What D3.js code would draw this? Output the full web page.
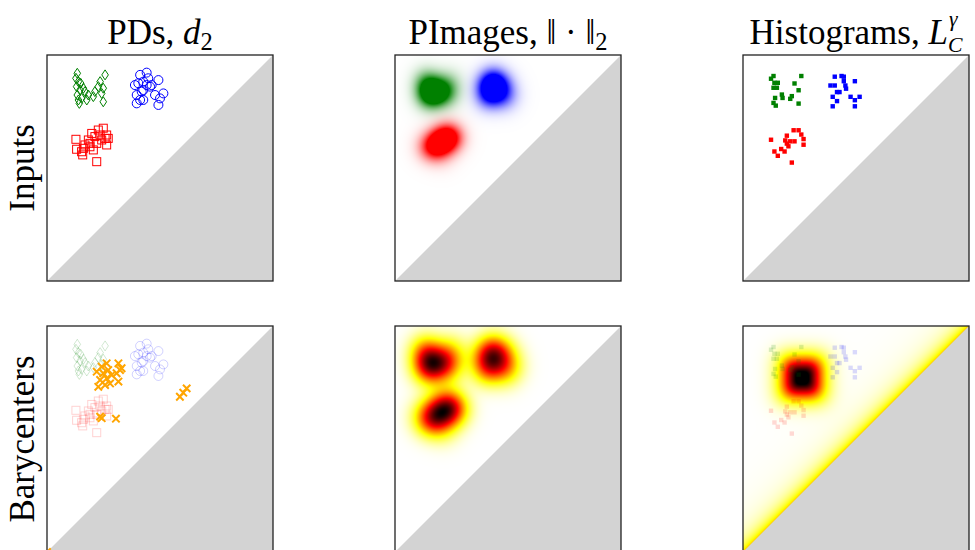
<!DOCTYPE html>
<html><head><meta charset="utf-8">
<script src="https://cdn.jsdelivr.net/npm/d3@7"></script>
<style>body{margin:0;background:#fff}svg{display:block}</style>
</head><body>
<script>
// ---------------- data (birth, death) in [0,1] ----------------
const greenPD = [[0.134,0.919],[0.128,0.897],[0.139,0.882],[0.131,0.860],[0.146,0.845],[0.134,0.823],[0.153,0.808],[0.143,0.786],[0.168,0.838],[0.176,0.801],[0.205,0.816],[0.212,0.838],[0.235,0.882],[0.257,0.912],[0.249,0.853],[0.242,0.830],[0.249,0.793],[0.149,0.875],[0.161,0.853],[0.227,0.860],[0.139,0.801],[0.183,0.823]];
const bluePD = [[0.412,0.912],[0.441,0.922],[0.404,0.875],[0.426,0.882],[0.448,0.897],[0.441,0.867],[0.463,0.867],[0.493,0.889],[0.397,0.823],[0.419,0.838],[0.426,0.801],[0.412,0.801],[0.397,0.786],[0.478,0.823],[0.515,0.830],[0.500,0.808],[0.493,0.779],[0.456,0.860],[0.426,0.845],[0.389,0.867]];
const redPD = [[0.128,0.627],[0.131,0.583],[0.153,0.572],[0.161,0.587],[0.168,0.602],[0.190,0.609],[0.198,0.653],[0.212,0.639],[0.227,0.668],[0.249,0.676],[0.264,0.646],[0.264,0.602],[0.257,0.631],[0.242,0.624],[0.220,0.609],[0.205,0.580],[0.190,0.594],[0.158,0.558],[0.220,0.528],[0.235,0.646],[0.183,0.624],[0.271,0.631]];
const greenHist = [[0.135,0.907],[0.124,0.895],[0.139,0.877],[0.135,0.855],[0.150,0.855],[0.142,0.810],[0.135,0.788],[0.145,0.776],[0.172,0.825],[0.175,0.810],[0.209,0.806],[0.216,0.818],[0.228,0.874],[0.258,0.907],[0.246,0.844],[0.246,0.785],[0.154,0.877]];
const blueHist = [[0.406,0.904],[0.436,0.907],[0.446,0.904],[0.446,0.884],[0.495,0.884],[0.387,0.865],[0.406,0.865],[0.453,0.865],[0.456,0.851],[0.416,0.836],[0.427,0.836],[0.397,0.815],[0.476,0.815],[0.516,0.815],[0.495,0.800],[0.416,0.796],[0.397,0.773],[0.495,0.773]];
const redHist = [[0.124,0.625],[0.224,0.667],[0.246,0.667],[0.258,0.648],[0.268,0.628],[0.194,0.643],[0.187,0.622],[0.209,0.618],[0.228,0.618],[0.201,0.596],[0.268,0.603],[0.169,0.584],[0.184,0.573],[0.139,0.573],[0.154,0.554],[0.216,0.524],[0.194,0.608]];
const baryPD = [[0.220,0.798],[0.242,0.820],[0.264,0.835],[0.249,0.791],[0.235,0.761],[0.264,0.768],[0.227,0.731],[0.279,0.746],[0.257,0.739],[0.286,0.783],[0.316,0.835],[0.323,0.805],[0.308,0.791],[0.330,0.813],[0.316,0.754],[0.271,0.805],[0.242,0.592],[0.235,0.599],[0.305,0.590],[0.588,0.687],[0.603,0.705],[0.618,0.724],[0.0,0.0]];
const histBaryMass = [[0.262,0.770]];
const colTitles = ["PDs", "PImages", "Histograms"];
const rowTitles = ["Inputs", "Barycenters"];
const inputColors = ["green", "blue", "red"];

// ---------------- layout ----------------
const W = 975, H = 550, S = 226;
const colX = [47, 395, 743], rowY = [55, 326];
const FONT = "'Liberation Serif','DejaVu Serif',serif";
const svg = d3.select("body").append("svg").attr("width", W).attr("height", H);
const defs = svg.append("defs");
const x = d3.scaleLinear().domain([0, 1]).range([0, S]);
const y = d3.scaleLinear().domain([0, 1]).range([S, 0]);

function panel(c, r) {
  const id = `clip${c}${r}`;
  defs.append("clipPath").attr("id", id).append("rect").attr("width", S).attr("height", S);
  const g = svg.append("g").attr("transform", `translate(${colX[c]},${rowY[r]})`);
  const inner = g.append("g").attr("clip-path", `url(#${id})`);
  return {g, inner};
}
function triangle(g) {
  g.append("path").attr("d", d3.line()([[x(0), y(0)], [x(1), y(0)], [x(1), y(1)]]) + "Z").attr("fill", "#d3d3d3");
}
function frame(g) {
  g.append("rect").attr("width", S).attr("height", S).attr("fill", "none").attr("stroke", "#222").attr("stroke-width", 1.3);
}
function image(g, fns, colorFn) {
  const vals = fns.map(f => { const a = new Float32Array(S * S); let m = 0;
    for (let j = 0; j < S; j++) for (let i = 0; i < S; i++) { const v = f(x.invert(i + 0.5), y.invert(j + 0.5)); a[j * S + i] = v; if (v > m) m = v; }
    return {a, m}; });
  const cv = document.createElement("canvas"); cv.width = S; cv.height = S;
  const ctx = cv.getContext("2d"); const im = ctx.createImageData(S, S);
  for (let k = 0; k < S * S; k++) {
    const c = colorFn(vals.map(o => o.a[k] / o.m), k);
    im.data[4 * k] = c[0]; im.data[4 * k + 1] = c[1]; im.data[4 * k + 2] = c[2]; im.data[4 * k + 3] = 255;
  }
  ctx.putImageData(im, 0, 0);
  g.append("image").attr("width", S).attr("height", S).attr("href", cv.toDataURL());
}
const sig = 0.05;
function kde(pts, s) { return (u, v) => { let t = 0; for (const p of pts) { const dx = u - p[0], dy = v - p[1]; t += Math.exp(-(dx * dx + dy * dy) / (2 * s * s)); } return t; }; }
function hotR(t) {
  t = Math.max(0, Math.min(1, t)); const h = 1 - t;
  const r = Math.min(1, h / 0.365), gg = Math.max(0, Math.min(1, (h - 0.365) / 0.381)), b = Math.max(0, Math.min(1, (h - 0.746) / 0.254));
  return [r * 255, gg * 255, b * 255];
}
const rgb = {green: [0, 128, 0], blue: [0, 0, 255], red: [255, 0, 0]};

// markers
const diamond = "M0,-5L3.3,0L0,5L-3.3,0Z";
function drawPD(g, alpha) {
  g.selectAll(null).data(greenPD).join("path").attr("d", diamond).attr("transform", d => `translate(${x(d[0])},${y(d[1])})`)
    .attr("fill", "none").attr("stroke", "green").attr("stroke-width", 1).attr("stroke-opacity", alpha);
  g.selectAll(null).data(bluePD).join("circle").attr("cx", d => x(d[0])).attr("cy", d => y(d[1])).attr("r", 4.5)
    .attr("fill", "none").attr("stroke", "blue").attr("stroke-width", 1).attr("stroke-opacity", alpha);
  g.selectAll(null).data(redPD).join("rect").attr("x", d => x(d[0]) - 4).attr("y", d => y(d[1]) - 4).attr("width", 8).attr("height", 8)
    .attr("fill", "none").attr("stroke", "red").attr("stroke-width", 1).attr("stroke-opacity", alpha);
}
function drawHist(g, alpha) {
  [[greenHist, "green"], [blueHist, "blue"], [redHist, "red"]].forEach(([arr, col]) => {
    g.selectAll(null).data(arr).join("rect").attr("x", d => x(d[0]) - 2.2).attr("y", d => y(d[1]) - 2.2)
      .attr("width", 4.4).attr("height", 4.4).attr("fill", col).attr("fill-opacity", alpha);
  });
}

// Row 1, col 1
{ const {g, inner} = panel(0, 0); triangle(inner); drawPD(inner, 1); frame(g); }
// Row 1, col 2 : persistence images
{ const {g, inner} = panel(1, 0);
  image(inner, [kde(greenPD, sig), kde(bluePD, sig), kde(redPD, sig)], ts => {
    let out = [255, 255, 255];
    ts.forEach((t, i) => { const a = Math.min(1, 1.8 * t * t + 0.3 * t); const c = rgb[inputColors[i]];
      out = [out[0] * (1 - a) + c[0] * a, out[1] * (1 - a) + c[1] * a, out[2] * (1 - a) + c[2] * a]; });
    return out;
  });
  triangle(inner); frame(g); }
// Row 1, col 3 : histograms
{ const {g, inner} = panel(2, 0); triangle(inner); drawHist(inner, 1); frame(g); }
// Row 2, col 1 : PD barycenter
{ const {g, inner} = panel(0, 1); triangle(inner); drawPD(inner, 0.18);
  inner.selectAll(null).data(baryPD).join("path")
    .attr("d", "M-3.7,-3.7L3.7,3.7M-3.7,3.7L3.7,-3.7").attr("transform", d => `translate(${x(d[0])},${y(d[1])})`)
    .attr("stroke", "orange").attr("stroke-width", 2).attr("fill", "none");
  frame(g); }
// Row 2, col 2 : PI barycenter (hot_r)
{ const {g, inner} = panel(1, 1);
  const all = kde(greenPD.concat(bluePD, redPD), sig);
  image(inner, [all], ts => hotR(ts[0] * 1.0));
  triangle(inner); frame(g); }
// Row 2, col 3 : histogram barycenter
{ const {g, inner} = panel(2, 1);
  const s2 = 0.064;
  image(inner, [(u, v) => {
    let t = 0;
    for (const p of histBaryMass) { const r = Math.pow(Math.pow(Math.abs(u - p[0]), 3) + Math.pow(Math.abs(v - p[1]), 3), 1 / 3); t += Math.exp(-r * r / (2 * s2 * s2)); }
    const d = Math.max(0, (v - u) * S / Math.SQRT2);
    t += 0.24 * Math.exp(-d / 7) + 0.06 * Math.exp(-d / 20);
    return t;
  }], ts => hotR(ts[0] * 1.1));
  drawHist(inner, 0.15);
  triangle(inner); frame(g); }

// ---------------- titles ----------------
const tfs = 35;
function title(c) {
  return svg.append("text").attr("x", colX[c] + S / 2).attr("y", 44).attr("text-anchor", "middle")
    .attr("font-family", FONT).attr("font-size", tfs).attr("fill", "#000");
}
{ const t = title(0); t.append("tspan").text(colTitles[0] + ", "); t.append("tspan").attr("font-style", "italic").text("d");
  t.append("tspan").attr("font-size", tfs * 0.7).attr("dy", 6).text("2"); }
{ const t = title(1); t.append("tspan").text(colTitles[1] + ", \u2016 \u00b7 \u2016");
  t.append("tspan").attr("font-size", tfs * 0.7).attr("dy", 6).text("2"); }
{ const t = title(2); t.append("tspan").text(colTitles[2] + ", "); t.append("tspan").attr("font-style", "italic").text("L");
  const gm = t.append("tspan").attr("font-style", "italic").attr("font-size", tfs * 0.62).attr("dy", -18).attr("dx", 1).text("\u03b3");
  const w = gm.node().getComputedTextLength();
  t.append("tspan").attr("font-style", "italic").attr("font-size", tfs * 0.62).attr("dy", 26).attr("dx", -w - 1).text("C"); }
rowTitles.forEach((r, i) => {
  svg.append("text").attr("transform", `translate(34,${rowY[i] + S / 2}) rotate(-90)`).attr("text-anchor", "middle")
    .attr("font-family", FONT).attr("font-size", tfs).attr("fill", "#000").text(r);
});
</script>
</body></html>
